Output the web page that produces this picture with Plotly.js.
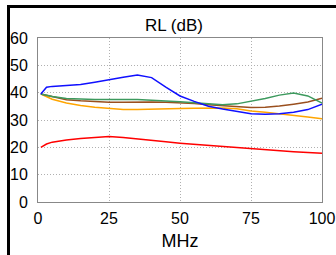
<!DOCTYPE html>
<html><head><meta charset="utf-8">
<script src="https://cdn.plot.ly/plotly-3.0.1.min.js"></script>
<style>
html,body{margin:0;padding:0;background:#fff;}
#wrap{position:relative;width:336px;height:255px;overflow:hidden;}
#chart{position:absolute;left:0;top:0;width:336px;height:255px;}
#frame{position:absolute;left:7px;top:5px;width:340px;height:260px;border-left:3px solid #000;border-top:3px solid #000;pointer-events:none;}
</style></head>
<body><div id="wrap"><div id="chart"></div><div id="frame"></div></div>
<script>
var freq   = [1, 3, 5, 10, 15, 20, 25, 30, 35, 40, 45, 50, 55, 60, 65, 70, 75, 80, 85, 90, 95, 100];
var blue   = [39.5, 42, 42.3, 42.6, 43, 43.8, 44.6, 45.6, 46.5, 45.5, 42, 38.8, 36.8, 35.0, 34.0, 33.1, 32.3, 32.1, 32.3, 32.8, 33.8, 35.8];
var green  = [39.5, 39, 38.6, 37.9, 37.6, 37.5, 37.5, 37.6, 37.5, 37.2, 37, 36.7, 36.3, 35.9, 35.6, 35.9, 36.8, 37.9, 39.1, 39.9, 38.8, 36.2];
var brown  = [39.5, 39, 38.4, 37.4, 37, 36.7, 36.5, 36.5, 36.6, 36.6, 36.5, 36.3, 36, 35.6, 35.3, 34.9, 34.6, 34.7, 35.1, 35.8, 36.6, 38];
var orange = [39.5, 38.5, 37.6, 36.2, 35.3, 34.7, 34.2, 33.8, 33.8, 34, 34.1, 34.2, 34.3, 34.4, 34.4, 34.1, 33.3, 32.8, 32.3, 31.7, 31.1, 30.5];
var red    = [20, 21.2, 21.9, 22.7, 23.2, 23.6, 24, 23.6, 23, 22.4, 22, 21.5, 21.1, 20.6, 20.2, 19.8, 19.4, 19, 18.7, 18.4, 18.1, 17.8];
var xTicks = [0, 25, 50, 75, 100];
var yTicks = [0, 10, 20, 30, 40, 50, 60];

function tr(y, c){ return {x: freq, y: y, type:'scatter', mode:'lines', line:{color:c, width:1.5}, hoverinfo:'skip'}; }
var data = [tr(orange,'#ffa500'), tr(brown,'#9a4f1e'), tr(green,'#3d9a5e'), tr(blue,'#1010ff'), tr(red,'#ff0000')];

var FF = 'Liberation Sans, Arial, sans-serif';
var axisFont = {family:FF, size:16, color:'#000'};
var layout = {
  width:336, height:255,
  margin:{l:38, r:14, t:38, b:53, pad:0},
  paper_bgcolor:'#fff', plot_bgcolor:'#fff',
  showlegend:false,
  title:{text:'RL (dB)', font:{family:FF, size:17, color:'#000'}, x:0.479, xanchor:'center', xref:'paper', y:0.9, yref:'container', yanchor:'middle', pad:{t:0,b:0}},
  xaxis:{range:[0,100], tickvals:xTicks, ticktext:xTicks.map(String), showgrid:true, gridcolor:'#b0b0b0', griddash:'1px,2px', gridwidth:1,
         showline:true, linecolor:'#888', linewidth:1, mirror:true, zeroline:false, ticks:'', tickfont:axisFont, ticklabelstandoff:2,
         title:{text:'MHz', font:{family:FF, size:18, color:'#000'}, standoff:8}},
  yaxis:{range:[0,60], tickvals:yTicks, ticktext:yTicks.map(String), showgrid:true, gridcolor:'#b0b0b0', griddash:'1px,2px', gridwidth:1,
         showline:true, linecolor:'#888', linewidth:1, mirror:true, zeroline:false, ticks:'', tickfont:axisFont, ticklabelstandoff:6}
};
Plotly.newPlot('chart', data, layout, {staticPlot:true, displayModeBar:false});
</script></body></html>
